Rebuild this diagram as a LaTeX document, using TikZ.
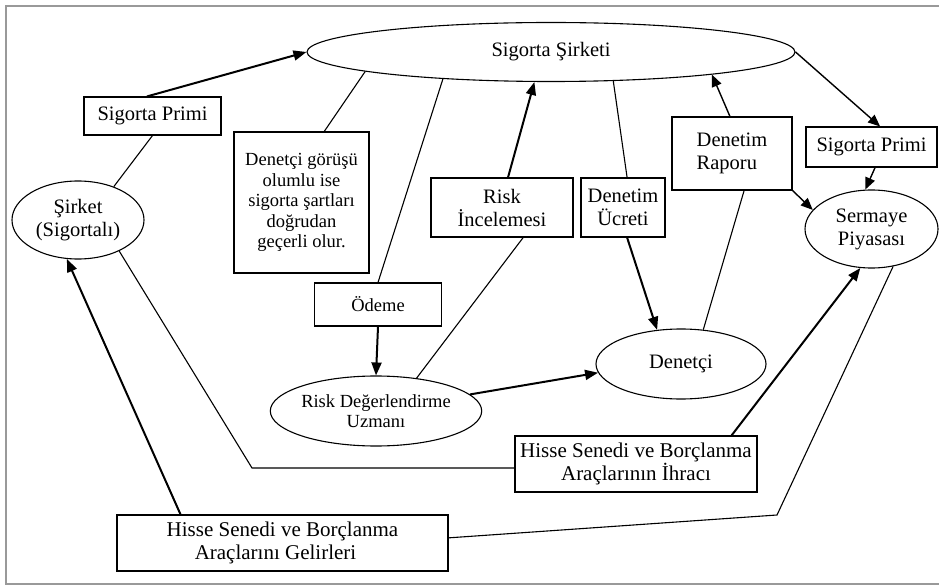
\documentclass[tikz,border=0pt]{standalone}
\usepackage{fontspec}
\setmainfont{Liberation Serif}
\usetikzlibrary{arrows.meta,shapes.geometric,calc}
\begin{document}
\begin{tikzpicture}[x=1pt,y=-1pt,
  lbl/.style={font=\fontsize{20.5}{23}\selectfont, align=center, inner sep=0pt},
  small/.style={font=\fontsize{18.5}{20.5}\selectfont},
  big/.style={font=\fontsize{21}{23}\selectfont},
  box/.style={lbl, draw, line width=1.1pt, rectangle},
  oval/.style={lbl, draw, line width=1.1pt, ellipse},
  link/.style={line width=1.1pt},
  flow/.style={line width=2pt, -{Triangle[length=13pt,width=10pt]}},
  thinflow/.style={line width=1.4pt, -{Triangle[length=12pt,width=10pt]}},
]
\useasboundingbox (0,0) rectangle (939,585);
% outer frame
\draw[black!40, line width=1.5pt] (939,6) -- (6,6) -- (6,584) -- (939,584);

% ellipses
\node[oval, minimum width=488pt, minimum height=59pt] (ss) at (551,52) {\raisebox{5pt}{Sigorta Şirketi}};
\node[oval, minimum width=132pt, minimum height=78pt] (sk) at (78,220) {Şirket\\(Sigortalı)};
\node[oval, minimum width=133pt, minimum height=78pt] (sp) at (871.5,229) {Sermaye\\Piyasası};
\node[oval, small, minimum width=170pt, minimum height=70pt] (rd) at (376,411) {Risk Değerlendirme\\Uzmanı};
\node[oval, minimum width=170pt, minimum height=70pt] (dn) at (681,364) {Denetçi};

% boxes
\node[box, minimum width=137pt, minimum height=38pt] (pl) at (152.5,116) {Sigorta Primi};
\node[box, small, minimum width=135pt, minimum height=141pt] (dg) at (301.5,202.5)
  {Denetçi görüşü\\olumlu ise\\sigorta şartları\\doğrudan\\geçerli olur.};
\node[box, small, minimum width=127pt, minimum height=43pt] (od) at (378,304.5) {Ödeme};
\node[box, minimum width=142pt, minimum height=59pt] (ri) at (502,207.5) {Risk\\İncelemesi};
\node[box, minimum width=84pt, minimum height=59pt] (du) at (623,207.5) {Denetim\\Ücreti};
\node[box, align=left, minimum width=120pt, minimum height=73pt] (dr) at (732,153.5) {Denetim\\Raporu};
\node[box, minimum width=131pt, minimum height=40pt] (pr) at (871.5,147) {Sigorta Primi};
\node[box, big, minimum width=242pt, minimum height=56pt] (ih) at (636,464)
  {Hisse Senedi ve Borçlanma\\Araçlarının İhracı};
\node[box, big, minimum width=331pt, minimum height=56pt] (gl) at (282.5,543)
  {Hisse Senedi ve Borçlanma\\Araçlarını Gelirleri\hspace*{14pt}};

% connectors
\draw[flow] ($(pl.north west)!0.46!(pl.north east)$) -- (ss.west);
\draw[link] (sk.43) -- (pl.south);
\draw[link] (ss.186) -- ($(dg.north west)!0.667!(dg.north east)$);
\draw[link] (ss.194) -- (od.north);
\draw[flow] (od.south) -- (rd.north);
\draw[link] (rd.39) -- ($(ri.south west)!0.648!(ri.south east)$);
\draw[flow] ($(ri.north west)!0.542!(ri.north east)$) -- (ss.241);
\draw[link] (ss.-25) -- ($(du.north west)!0.548!(du.north east)$);
\draw[flow] ($(du.south west)!0.548!(du.south east)$) -- (dn.125);
\draw[link] (dn.57) -- ($(dr.south west)!0.6!(dr.south east)$);
\draw[thinflow] ($(dr.north west)!0.483!(dr.north east)$) -- (ss.-8.5);
\draw[thinflow] (ss.east) -- ($(pr.north west)!0.565!(pr.north east)$);
\draw[thinflow] ($(pr.south west)!0.527!(pr.south east)$) -- (sp.99);
\draw[thinflow] (dr.south east) -- (sp.162);
\draw[flow] (rd.10) -- (dn.186);
\coordinate (c1) at (252,468);
\draw[link] (sk.-37) -- (c1) -- (c1 -| ih.west);
\draw[flow] ($(ih.north west)!0.893!(ih.north east)$) -- (sp.254);
\coordinate (c2) at (777,515);
\draw[link] (sp.-60) -- (c2) -- ($(gl.north east)!0.41!(gl.south east)$);
\draw[flow] ($(gl.north west)!0.193!(gl.north east)$) -- (sk.254);
\end{tikzpicture}
\end{document}
